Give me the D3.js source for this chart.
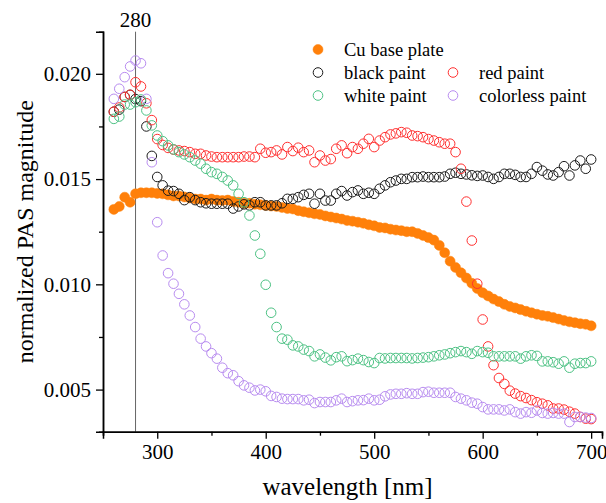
<!DOCTYPE html>
<html>
<head>
<meta charset="utf-8">
<script src="https://cdn.jsdelivr.net/npm/d3@7"></script>
<style>
  html, body { margin: 0; padding: 0; background: #fff; }
  svg { display: block; font-family: "Liberation Serif", "Times New Roman", serif; }
</style>
</head>
<body>
<svg id="chart" width="606" height="503"></svg>
<script>
// wavelength grid (nm), 5 nm steps
const wavelengths = d3.range(260, 701, 5);

const cuBasePlate = [
  0.01356, 0.01370, 0.01414, 0.01390, 0.01430, 0.01435, 0.01435, 0.01435, 0.01432, 0.01430,
  0.01425, 0.01420, 0.01420, 0.01415, 0.01410, 0.01405, 0.01405, 0.01400, 0.01405, 0.01400,
  0.01398, 0.01400, 0.01393, 0.01390, 0.01385, 0.01385, 0.01380, 0.01378, 0.01375, 0.01372,
  0.01370, 0.01365, 0.01360, 0.01358, 0.01350, 0.01345, 0.01340, 0.01335, 0.01332, 0.01325,
  0.01320, 0.01315, 0.01310, 0.01303, 0.01300, 0.01295, 0.01290, 0.01283, 0.01278, 0.01270,
  0.01268, 0.01262, 0.01258, 0.01255, 0.01250, 0.01250, 0.01242, 0.01232, 0.01222, 0.01210,
  0.01185, 0.01150, 0.01110, 0.01080, 0.01055, 0.01030, 0.01005, 0.00980, 0.00960, 0.00945,
  0.00930, 0.00918, 0.00905, 0.00895, 0.00888, 0.00880, 0.00872, 0.00865, 0.00858, 0.00852,
  0.00848, 0.00842, 0.00835, 0.00828, 0.00822, 0.00818, 0.00813, 0.00810, 0.00803
];

const blackPaint = [
  0.01820, 0.01830, 0.01890, 0.01900, 0.01880, 0.01870, 0.01750, 0.01610, 0.01510, 0.01470,
  0.01445, 0.01443, 0.01430, 0.01400, 0.01414, 0.01400, 0.01390, 0.01385, 0.01383, 0.01383,
  0.01383, 0.01383, 0.01360, 0.01370, 0.01380, 0.01375, 0.01390, 0.01390, 0.01375, 0.01375,
  0.01375, 0.01385, 0.01406, 0.01406, 0.01414, 0.01425, 0.01430, 0.01383, 0.01430, 0.01398,
  0.01398, 0.01430, 0.01443, 0.01422, 0.01438, 0.01446, 0.01430, 0.01435, 0.01430, 0.01454,
  0.01470, 0.01485, 0.01493, 0.01501, 0.01501, 0.01509, 0.01509, 0.01512, 0.01509, 0.01509,
  0.01509, 0.01512, 0.01525, 0.01530, 0.01525, 0.01522, 0.01518, 0.01515, 0.01517, 0.01510,
  0.01501, 0.01510, 0.01525, 0.01525, 0.01520, 0.01510, 0.01510, 0.01525, 0.01557, 0.01540,
  0.01522, 0.01517, 0.01533, 0.01561, 0.01517, 0.01565, 0.01588, 0.01549, 0.01593
];

const redPaint = [
  0.01820, 0.01840, 0.01890, 0.01900, 0.01960, 0.01940, 0.01860, 0.01780, 0.01690, 0.01662,
  0.01648, 0.01640, 0.01636, 0.01633, 0.01628, 0.01620, 0.01620, 0.01612, 0.01607, 0.01604,
  0.01604, 0.01604, 0.01604, 0.01604, 0.01607, 0.01607, 0.01604, 0.01644, 0.01625, 0.01628,
  0.01636, 0.01617, 0.01652, 0.01633, 0.01649, 0.01628, 0.01636, 0.01580, 0.01612, 0.01588,
  0.01595, 0.01644, 0.01660, 0.01623, 0.01652, 0.01644, 0.01668, 0.01691, 0.01652, 0.01683,
  0.01699, 0.01712, 0.01717, 0.01723, 0.01720, 0.01707, 0.01704, 0.01699, 0.01690, 0.01683,
  0.01675, 0.01668, 0.01668, 0.01628, 0.01549, 0.01393, 0.01208, 0.01003, 0.00833, 0.00705,
  0.00616, 0.00555, 0.00527, 0.00495, 0.00481, 0.00469, 0.00460, 0.00450, 0.00440, 0.00433,
  0.00425, 0.00410, 0.00410, 0.00405, 0.00395, 0.00386, 0.00370, 0.00362, 0.00360
];

const whitePaint = [
  0.01786, 0.01797, 0.01854, 0.01854, 0.01865, 0.01878, 0.01826, 0.01755, 0.01707, 0.01680,
  0.01660, 0.01641, 0.01628, 0.01617, 0.01604, 0.01588, 0.01573, 0.01549, 0.01533, 0.01525,
  0.01510, 0.01493, 0.01470, 0.01430, 0.01390, 0.01327, 0.01232, 0.01145, 0.00998, 0.00865,
  0.00797, 0.00742, 0.00737, 0.00710, 0.00705, 0.00690, 0.00683, 0.00658, 0.00667, 0.00652,
  0.00639, 0.00654, 0.00658, 0.00635, 0.00640, 0.00647, 0.00640, 0.00631, 0.00626, 0.00650,
  0.00648, 0.00650, 0.00650, 0.00650, 0.00650, 0.00648, 0.00650, 0.00652, 0.00654, 0.00658,
  0.00663, 0.00667, 0.00673, 0.00678, 0.00683, 0.00678, 0.00670, 0.00683, 0.00678, 0.00675,
  0.00658, 0.00658, 0.00658, 0.00658, 0.00658, 0.00647, 0.00658, 0.00663, 0.00660, 0.00634,
  0.00634, 0.00630, 0.00623, 0.00634, 0.00604, 0.00623, 0.00626, 0.00626, 0.00634
];

const colorlessPaint = [
  0.01881, 0.01929, 0.01984, 0.02035, 0.02063, 0.02050, 0.01881, 0.01580, 0.01295, 0.01137,
  0.01053, 0.01003, 0.00955, 0.00905, 0.00852, 0.00797, 0.00742, 0.00705, 0.00673, 0.00647,
  0.00604, 0.00578, 0.00568, 0.00540, 0.00520, 0.00509, 0.00496, 0.00500, 0.00492, 0.00470,
  0.00465, 0.00457, 0.00455, 0.00455, 0.00455, 0.00449, 0.00452, 0.00436, 0.00441, 0.00441,
  0.00441, 0.00449, 0.00457, 0.00441, 0.00445, 0.00449, 0.00450, 0.00457, 0.00449, 0.00452,
  0.00468, 0.00477, 0.00480, 0.00480, 0.00483, 0.00480, 0.00480, 0.00488, 0.00490, 0.00485,
  0.00485, 0.00485, 0.00485, 0.00465, 0.00457, 0.00449, 0.00438, 0.00433, 0.00417, 0.00406,
  0.00406, 0.00406, 0.00401, 0.00406, 0.00393, 0.00386, 0.00393, 0.00390, 0.00401, 0.00389,
  0.00386, 0.00389, 0.00386, 0.00386, 0.00346, 0.00370, 0.00370, 0.00367, 0.00365
];

const xMajorTicks = [300, 400, 500, 600, 700];
const xMinorTicks = [250, 350, 450, 550, 650];
const yMajorTicks = [0.005, 0.010, 0.015, 0.020];
const yMinorTicks = [0.0075, 0.0125, 0.0175];
const markerLine = 280;

const series = [
  { name: "Cu base plate",   values: cuBasePlate,    color: "#FF800A", filled: true },
  { name: "black paint",     values: blackPaint,     color: "#1a1a1a", filled: false },
  { name: "red paint",       values: redPaint,       color: "#FF3030", filled: false },
  { name: "white paint",     values: whitePaint,     color: "#4DC284", filled: false },
  { name: "colorless paint", values: colorlessPaint, color: "#B88CF0", filled: false }
];

const svg = d3.select("#chart");
const plotLeft = 103, plotRight = 602, plotTop = 31.7, plotBottom = 431.7;

const x = d3.scaleLinear().domain([250, 710]).range([plotLeft, plotRight]);
const y = d3.scaleLinear().domain([0.003, 0.022]).range([plotBottom, plotTop]);

// reference line at 280 nm
svg.append("line")
  .attr("x1", x(markerLine)).attr("x2", x(markerLine))
  .attr("y1", plotTop).attr("y2", plotBottom)
  .attr("stroke", "#666").attr("stroke-width", 1);
svg.append("text")
  .attr("x", x(markerLine)).attr("y", 27)
  .attr("text-anchor", "middle")
  .attr("font-size", 21)
  .text(String(markerLine));

// data markers
series.forEach(s => {
  svg.append("g")
    .selectAll("circle")
    .data(wavelengths.map((w, i) => [w, s.values[i]]))
    .join("circle")
    .attr("cx", d => x(d[0]))
    .attr("cy", d => y(d[1]))
    .attr("r", s.filled ? 5 : 4.8)
    .attr("fill", s.filled ? s.color : "none")
    .attr("stroke", s.color)
    .attr("stroke-width", s.filled ? 0.5 : 1);
});

// axes
svg.append("g").attr("transform", `translate(0,${plotBottom})`)
  .call(d3.axisBottom(x).tickValues(xMajorTicks).tickSize(7).tickPadding(5).tickFormat(d3.format("d")));
svg.append("g").attr("transform", `translate(0,${plotBottom})`)
  .call(d3.axisBottom(x).tickValues(xMinorTicks).tickSize(4).tickFormat(""));
svg.append("g").attr("transform", `translate(${plotLeft},0)`)
  .call(d3.axisLeft(y).tickValues(yMajorTicks).tickSize(7).tickPadding(5).tickFormat(d3.format(".3f")));
svg.append("g").attr("transform", `translate(${plotLeft},0)`)
  .call(d3.axisLeft(y).tickValues(yMinorTicks).tickSize(4).tickFormat(""));

svg.selectAll(".domain").attr("stroke", "#000").attr("stroke-width", 1.5);
svg.selectAll(".tick line").attr("stroke", "#000").attr("stroke-width", 1.3);
svg.selectAll(".tick text")
  .attr("font-family", "'Liberation Serif', 'Times New Roman', serif")
  .attr("font-size", 21).attr("fill", "#000");

// axis titles
svg.append("text")
  .attr("x", (plotLeft + plotRight) / 2 - 5).attr("y", 495)
  .attr("text-anchor", "middle").attr("font-size", 25)
  .text("wavelength [nm]");
svg.append("text")
  .attr("transform", `translate(33,${(plotTop + plotBottom) / 2}) rotate(-90)`)
  .attr("text-anchor", "middle").attr("font-size", 24)
  .text("normalized PAS magnitude");

// legend: first entry alone, then two columns
const legendPos = [[0, 0], [0, 1], [1, 1], [0, 2], [1, 2]];
const legend = svg.append("g");
series.forEach((s, k) => {
  const [col, row] = legendPos[k];
  const mx = col === 0 ? 318 : 453;
  const tx = col === 0 ? 344 : 479;
  const ly = 49.5 + row * 23;
  legend.append("circle")
    .attr("cx", mx).attr("cy", ly).attr("r", s.filled ? 5 : 4.8)
    .attr("fill", s.filled ? s.color : "none")
    .attr("stroke", s.color).attr("stroke-width", s.filled ? 0.5 : 1);
  legend.append("text")
    .attr("x", tx).attr("y", ly + 6)
    .attr("font-size", 18.5)
    .text(s.name);
});
</script>
</body>
</html>
